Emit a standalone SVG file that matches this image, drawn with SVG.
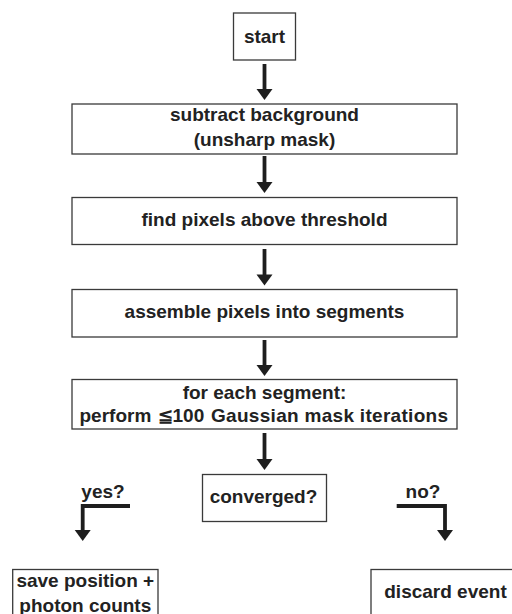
<svg xmlns="http://www.w3.org/2000/svg" width="512" height="614" viewBox="0 0 512 614">
  <style>
    .box { fill: #ffffff; stroke: #3a3a3a; stroke-width: 1.3; }
    .lbl { font-family: "Liberation Sans", Arial, sans-serif; font-weight: bold; font-size: 19px; fill: #222222; text-anchor: middle; }
    .shaft { fill: none; stroke: #1e1e1e; stroke-width: 3.8; }
    .tip { fill: #1e1e1e; }
  </style>
  <defs>
    <!-- downward arrowhead, tip at the origin -->
    <polygon id="head" class="tip" points="-8,-11 8,-11 0,0"/>
  </defs>
  <rect width="512" height="614" fill="#ffffff"/>

  <g id="connectors">
    <path class="shaft" d="M264.5,64 V90"/>
    <use href="#head" x="264.5" y="100"/>
    <path class="shaft" d="M264.5,156 V183"/>
    <use href="#head" x="264.5" y="193"/>
    <path class="shaft" d="M264.5,249 V275"/>
    <use href="#head" x="264.5" y="285.5"/>
    <path class="shaft" d="M264.5,340 V366"/>
    <use href="#head" x="264.5" y="376"/>
    <path class="shaft" d="M264.5,433 V460"/>
    <use href="#head" x="264.5" y="470"/>
    <path class="shaft" d="M130,506 H82.7 V531"/>
    <use href="#head" x="82.7" y="541"/>
    <path class="shaft" d="M396.7,506 H445 V531"/>
    <use href="#head" x="445" y="541"/>
    <text class="lbl" x="103" y="498">yes?</text>
    <text class="lbl" x="423" y="498">no?</text>
  </g>

  <g id="start">
    <rect class="box" x="233.5" y="13" width="62" height="47"/>
    <text class="lbl" x="264.5" y="43">start</text>
  </g>

  <g id="subtract-background">
    <rect class="box" x="72" y="104" width="385" height="50"/>
    <text class="lbl" x="264.5" y="121">subtract background</text>
    <text class="lbl" x="264.5" y="145.5">(unsharp mask)</text>
  </g>

  <g id="find-pixels">
    <rect class="box" x="72" y="197.5" width="385" height="47"/>
    <text class="lbl" x="264.5" y="225.5">find pixels above threshold</text>
  </g>

  <g id="assemble-segments">
    <rect class="box" x="72" y="289.5" width="385" height="47.5"/>
    <text class="lbl" x="264.5" y="318">assemble pixels into segments</text>
  </g>

  <g id="gaussian-mask">
    <rect class="box" x="72" y="379.5" width="385" height="49.5"/>
    <text class="lbl" x="264.5" y="399">for each segment:</text>
    <text class="lbl" y="422" style="text-anchor:start"><tspan x="79.5">perform</tspan><tspan x="158" font-size="18">≦</tspan><tspan x="172.5">100</tspan><tspan x="211" textLength="237" lengthAdjust="spacing">Gaussian mask iterations</tspan></text>
  </g>

  <g id="converged">
    <rect class="box" x="202.5" y="474.5" width="124" height="47"/>
    <text class="lbl" x="263.5" y="503">converged?</text>
  </g>

  <g id="save-position">
    <rect class="box" x="12.7" y="569.5" width="145.3" height="60"/>
    <text class="lbl" x="85.3" y="587">save position +</text>
    <text class="lbl" x="85.3" y="611.5">photon counts</text>
  </g>

  <g id="discard-event">
    <rect class="box" x="371" y="569.5" width="160" height="60"/>
    <text class="lbl" x="445.5" y="598">discard event</text>
  </g>
</svg>
